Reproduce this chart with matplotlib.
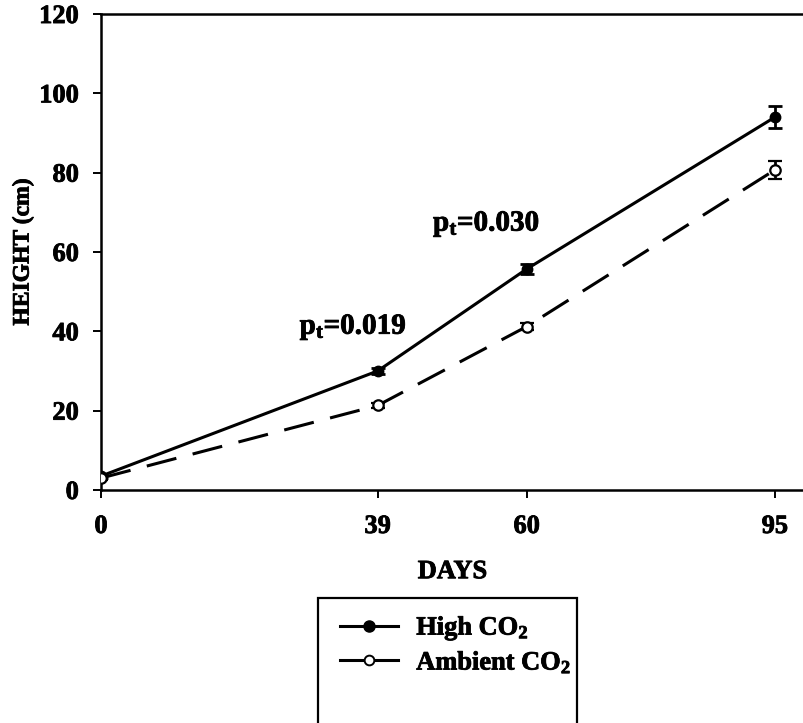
import numpy as np
import matplotlib
matplotlib.use("Agg")
import matplotlib.pyplot as plt
import matplotlib.patheffects as pe
from matplotlib.lines import Line2D
from matplotlib.patches import Rectangle

plt.rcParams['font.family'] = ['Liberation Serif', 'DejaVu Serif']
plt.rcParams['font.weight'] = 'bold'
plt.rcParams['mathtext.fontset'] = 'custom'
plt.rcParams['mathtext.rm'] = 'Liberation Serif:bold'
plt.rcParams['mathtext.it'] = 'Liberation Serif:bold'
plt.rcParams['mathtext.bf'] = 'Liberation Serif:bold'

days = [0, 39, 60, 95]
high_co2 = [3.5, 30.0, 55.7, 94.0]
high_err = [0.5, 0.8, 1.2, 2.7]
ambient_co2 = [3.0, 21.3, 41.2, 80.7]
ambient_err = [0.5, 0.6, 0.8, 2.2]
y_ticks = [0, 20, 40, 60, 80, 100, 120]
p_labels = [(28.0, 41.0, "0.019"), (46.8, 67.0, "0.030")]

# thicken the serif glyphs a little
heavy = [pe.withStroke(linewidth=0.6, foreground='black')]

fig = plt.figure(figsize=(8.04, 7.23), dpi=100)
ax = fig.add_axes([0.1256, 0.3223, 0.8744, 0.6583])

ax.errorbar(days, high_co2, yerr=high_err, color='black', lw=2.2,
            marker='o', ms=7.5, mfc='black', mec='black',
            capsize=5, capthick=2, elinewidth=2, zorder=3)
ax.errorbar(days, ambient_co2, yerr=ambient_err, color='black', lw=2.2,
            ls=(0, (10, 5.5)), marker='o', ms=7.5, mfc='white', mec='black', mew=1.6,
            capsize=5, capthick=2, elinewidth=2, zorder=4)

for x, y, p in p_labels:
    ax.text(x, y, r'$\mathrm{p_t}$=' + p, fontsize=21, fontweight='bold',
            ha='left', va='center', path_effects=heavy)

ax.set_xlim(0, 99.1)
ax.set_ylim(0, 120)
ax.set_xticks(days)
ax.set_yticks(y_ticks)
ax.tick_params(axis='both', labelsize=19, length=6, width=1.4, direction='out')
ax.tick_params(axis='x', pad=12)
ax.tick_params(axis='y', pad=10)
for lab in ax.get_xticklabels() + ax.get_yticklabels():
    lab.set_fontweight('bold')
    lab.set_path_effects(heavy)
ax.spines['right'].set_visible(False)
for s in ['left', 'bottom', 'top']:
    ax.spines[s].set_linewidth(1.8)

ax.set_xlabel('DAYS', fontsize=19, fontweight='bold', labelpad=16, path_effects=heavy)
ax.set_ylabel('HEIGHT (cm)', fontsize=17, fontweight='bold', labelpad=4, path_effects=heavy)

# legend box, running off the bottom of the figure
fig.patches.append(Rectangle((318 / 804, -0.05), (577 - 318) / 804, 0.05 + (723 - 598) / 723,
                             transform=fig.transFigure, fill=False, lw=1.6, ec='black'))
handles = [Line2D([], [], color='black', lw=2.2, marker='o', ms=8, mfc='black'),
           Line2D([], [], color='black', lw=2.2, marker='o', ms=7, mfc='white', mew=1.4)]
leg = fig.legend(handles, ['High CO$_2$', 'Ambient CO$_2$'], loc='upper left',
                 bbox_to_anchor=(316 / 804, 1 - 591 / 723), frameon=False,
                 prop={'size': 19, 'weight': 'bold'}, handlelength=2.2,
                 handletextpad=0.7, labelspacing=0.3)
for t in leg.get_texts():
    t.set_path_effects(heavy)

fig.savefig('out.png', dpi=100)
